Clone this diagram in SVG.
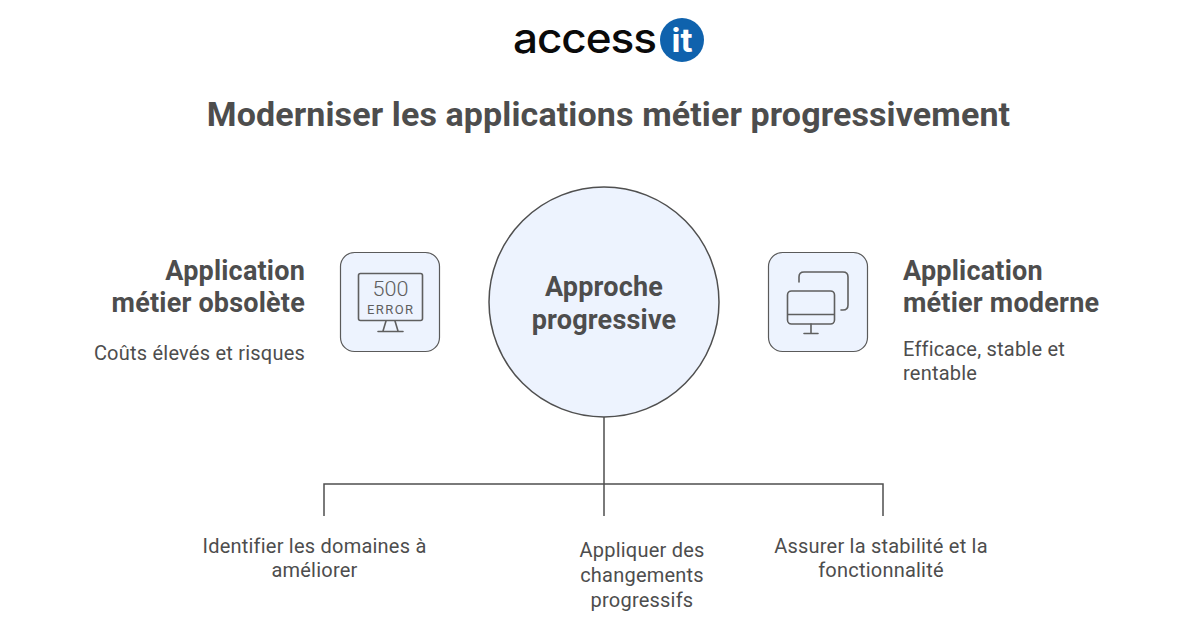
<svg xmlns="http://www.w3.org/2000/svg" width="1200" height="630" viewBox="0 0 1200 630">
<style>
text{font-family:Roboto,"Liberation Sans",sans-serif;fill:#4d4d4d}
.h{font-size:27px;font-weight:700;letter-spacing:.2px}
.s{font-size:20px;font-weight:400;letter-spacing:.22px}
.m{text-anchor:middle}
.e{text-anchor:end}
.box{fill:#edf3fe;stroke:#5a5a5a;stroke-width:1.2}
.ic{fill:none;stroke:#5f5f5f;stroke-width:1.6;stroke-linecap:round;stroke-linejoin:round}
.ln{fill:none;stroke:#4f4f4f;stroke-width:1.5}
.it{font-weight:300;fill:#5f5f5f}
</style>
<rect width="1200" height="630" fill="#fff"/>
<g id="logo">
<text x="513" y="53" style="font-family:Inter,sans-serif;font-size:42px;font-weight:500;fill:#0a0a0a;letter-spacing:-1px" textLength="143" lengthAdjust="spacingAndGlyphs">access</text>
<circle cx="682" cy="40" r="22" fill="#0f62ad"/>
<text x="682" y="52" class="m" style="font-family:Inter,sans-serif;font-size:33px;font-weight:700;fill:#fff">it</text>
</g>
<text id="title" x="608.500" y="125.700" class="m" style="font-size:34px;font-weight:700;letter-spacing:.12px">Moderniser les applications métier progressivement</text>
<g id="connectors">
<path class="ln" d="M604 417V516M324 516V484H883V516"/>
</g>
<g id="center">
<circle cx="604" cy="302" r="115" fill="#edf3fe" stroke="#4f4f4f" stroke-width="1.5"/>
<text x="604" y="295.700" class="h m">Approche</text>
<text x="604" y="328.700" class="h m">progressive</text>
</g>
<g id="old-app">
<text x="305" y="279.700" class="h e">Application</text>
<text x="305" y="311.700" class="h e">métier obsolète</text>
<text x="305" y="359.700" class="s e">Coûts élevés et risques</text>
<rect class="box" x="340.500" y="252.500" width="99" height="99" rx="14"/>
<rect class="ic" x="358.500" y="273.500" width="64" height="47" rx="2"/>
<path class="ic" d="M386 321L383 331M395 321L398 331M378 331.500H403"/>
<text class="it m" x="390.500" y="296" style="font-size:21px" textLength="36" lengthAdjust="spacingAndGlyphs">500</text>
<text class="it m" x="390" y="314" style="font-size:13px;font-weight:400" textLength="46" lengthAdjust="spacing">ERROR</text>
</g>
<g id="new-app">
<rect class="box" x="768.500" y="252.500" width="99" height="99" rx="14"/>
<path class="ic" d="M799 282V277Q799 272 804 272H843Q848 272 848 277V305Q848 310 843 310H841"/>
<rect class="ic" x="787.500" y="291" width="47" height="33" rx="4"/>
<path class="ic" d="M788 314.500H834M811 324V333M804 333.500H818"/>
<text x="903" y="279.700" class="h">Application</text>
<text x="903" y="311.700" class="h">métier moderne</text>
<text x="903" y="355.700" class="s">Efficace, stable et</text>
<text x="903" y="379.700" class="s">rentable</text>
</g>
<g id="step-1">
<text x="314.500" y="552.700" class="s m">Identifier les domaines à</text>
<text x="314.500" y="576.700" class="s m">améliorer</text>
</g>
<g id="step-2">
<text x="642" y="556.700" class="s m">Appliquer des</text>
<text x="642" y="581.700" class="s m">changements</text>
<text x="642" y="606.700" class="s m">progressifs</text>
</g>
<g id="step-3">
<text x="881" y="552.700" class="s m">Assurer la stabilité et la</text>
<text x="881" y="576.700" class="s m">fonctionnalité</text>
</g>
</svg>
